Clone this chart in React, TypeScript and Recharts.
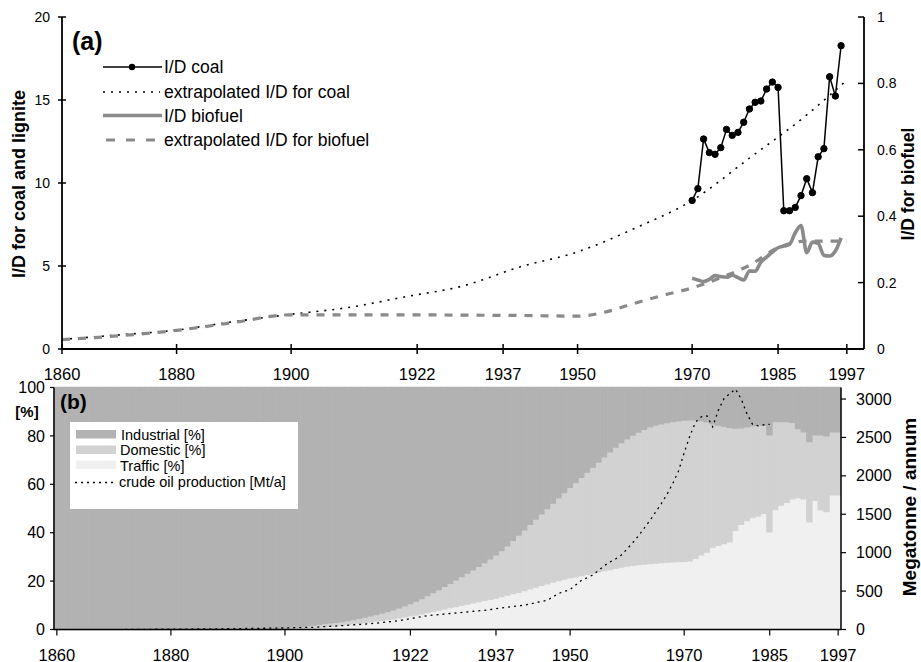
import React from "react";
import { ComposedChart, Line, Bar, XAxis, YAxis } from "recharts";

const FONT = '"Liberation Sans", Arial, Helvetica, sans-serif';
const INDUSTRIAL = "#b2b2b2";
const DOMESTIC = "#d2d2d2";
const TRAFFIC = "#f0f0f0";
const BIO_GREY = "#8a8a8a";

const YEAR_TICKS = [1860, 1880, 1900, 1922, 1937, 1950, 1970, 1985, 1997];

// ---- panel (a): I/D ratios ----
const COAL_YEARS = [
  1970, 1971, 1972, 1973, 1974, 1975, 1976, 1977, 1978, 1979, 1980, 1981, 1982, 1983,
  1984, 1985, 1986, 1987, 1988, 1989, 1990, 1991, 1992, 1993, 1994, 1995, 1996,
];
const COAL_ID = [
  8.95, 9.66, 12.65, 11.83, 11.73, 12.13, 13.23, 12.87, 13.05, 13.66, 14.46, 14.86, 14.94, 15.66,
  16.08, 15.76, 8.33, 8.33, 8.53, 9.24, 10.26, 9.42, 11.58, 12.07, 16.4, 15.24, 18.27,
];
const BIO_ID = [
  0.213, 0.208, 0.203, 0.21, 0.221, 0.218, 0.216, 0.222, 0.215, 0.208, 0.235, 0.234, 0.262, 0.277,
  0.292, 0.305, 0.31, 0.315, 0.35, 0.372, 0.29, 0.322, 0.318, 0.282, 0.28, 0.295, 0.335,
];
const COAL_EXT_YEARS = [1860, 1870, 1880, 1890, 1900, 1910, 1920, 1930, 1940, 1950, 1960, 1970, 1980, 1990, 1997];
const COAL_EXT = [0.58, 0.85, 1.14, 1.65, 2.09, 2.5, 3.15, 3.8, 4.95, 5.85, 7.27, 8.95, 11.5, 14.1, 16.2];
const BIO_EXT_YEARS = [1860, 1870, 1880, 1890, 1900, 1910, 1920, 1930, 1940, 1950, 1955, 1960, 1965, 1970, 1975, 1980, 1985, 1990, 1997];
const BIO_EXT = [0.028, 0.04, 0.056, 0.08, 0.103, 0.103, 0.103, 0.102, 0.101, 0.099, 0.112, 0.138, 0.162, 0.184, 0.215, 0.252, 0.305, 0.325, 0.325];

// ---- panel (b): sector shares (%) from 1899, oil production (Mt/a) ----
const FIRST_YEAR = 1860;
const LAST_YEAR = 1997;
const SHARE_FROM = 1899;
const TRAFFIC_PCT = [
  0, 0.2, 0.3, 0.4, 0.5, 0.6, 0.7, 0.9, 1.1, 1.3,
  1.5, 1.7, 2.0, 2.3, 2.6, 2.9, 3.2, 3.5, 3.8, 4.1,
  4.4, 4.8, 5.2, 5.6, 6.0, 6.5, 7.0, 7.5, 8.0, 8.5,
  9.0, 9.5, 10.0, 10.5, 11.0, 11.5, 12.0, 12.5, 13.0, 13.6,
  14.2, 14.8, 15.4, 16.1, 16.8, 17.5, 18.2, 18.9, 19.6, 20.2,
  20.8, 21.3, 21.8, 22.3, 22.8, 23.3, 23.8, 24.3, 24.8, 25.3,
  25.8, 26.2, 26.5, 26.8, 27.0, 27.2, 27.4, 27.6, 27.8, 28.0,
  28.1, 28.2, 28.4, 29.4, 30.8, 32.0, 34.0, 34.8, 35.5, 36.2,
  41.0, 43.5, 45.0, 46.2, 47.0, 48.0, 40.4, 49.5, 51.4, 52.5,
  54.0, 54.5, 54.0, 44.5, 53.4, 49.4, 48.7, 55.6, 55.6,
];
// upper edge of the domestic band (traffic + domestic)
const DOMESTIC_TOP = [
  0, 0.6, 0.8, 1.0, 1.2, 1.5, 1.8, 2.1, 2.4, 2.7,
  3.0, 3.3, 3.7, 4.1, 4.6, 5.1, 5.6, 6.2, 6.8, 7.4,
  8.1, 8.9, 9.8, 10.7, 11.7, 12.8, 14.0, 15.2, 16.5, 17.8,
  19.1, 20.5, 21.9, 23.3, 24.7, 26.1, 27.6, 29.2, 30.8, 32.6,
  34.6, 36.8, 39.0, 41.2, 43.4, 45.6, 47.8, 50.0, 52.2, 54.4,
  56.6, 58.7, 60.8, 62.9, 65.0, 67.1, 69.2, 71.3, 73.4, 75.4,
  77.2, 78.8, 80.3, 81.6, 82.7, 83.7, 84.5, 85.0, 85.5, 85.9,
  86.2, 86.5, 86.6, 86.7, 86.3, 85.8, 85.0, 84.5, 84.0, 83.5,
  83.2, 83.3, 83.7, 84.2, 84.5, 84.5, 80.4, 85.9, 85.9, 85.9,
  85.6, 83.0, 81.7, 77.6, 80.4, 80.4, 80.0, 81.7, 81.7,
];
const OIL_YEARS = [
  1872, 1880, 1890, 1900, 1905, 1910, 1915, 1920, 1925, 1930, 1935, 1937, 1940, 1942, 1944, 1946, 1948,
  1950, 1952, 1954, 1955, 1956, 1957, 1958, 1959, 1960, 1961, 1962, 1963, 1964, 1965, 1966, 1967, 1968,
  1969, 1970, 1971, 1972, 1973, 1974, 1975, 1976, 1977, 1978, 1979, 1980, 1981, 1982, 1983, 1984, 1985,
];
const OIL_MT = [
  1, 4, 10, 20, 29, 50, 75, 115, 180, 215, 250, 270, 300, 316, 350, 380, 470,
  520, 640, 710, 770, 830, 880, 920, 970, 1050, 1130, 1220, 1320, 1420, 1530, 1640, 1760, 1900,
  2060, 2300, 2520, 2700, 2768, 2781, 2638, 2855, 3008, 3070, 3129, 3000, 2810, 2670, 2650, 2665, 2670,
];

const zip = (xs: number[], ys: number[]) => xs.map((x, i) => ({ x, y: ys[i] }));
const coalData = zip(COAL_YEARS, COAL_ID);
const bioData = zip(COAL_YEARS, BIO_ID);
const coalExtData = zip(COAL_EXT_YEARS, COAL_EXT);
const bioExtData = zip(BIO_EXT_YEARS, BIO_EXT);

const shareRows = Array.from({ length: LAST_YEAR - FIRST_YEAR + 1 }, (_, i) => {
  const year = FIRST_YEAR + i;
  const k = year - SHARE_FROM;
  const traffic = k >= 0 ? TRAFFIC_PCT[k] : 0;
  const top = k >= 0 ? DOMESTIC_TOP[k] : 0;
  const oi = OIL_YEARS.indexOf(year);
  return {
    year,
    traffic,
    domestic: top - traffic,
    industrial: 100 - top,
    oil: oi >= 0 ? OIL_MT[oi] : null,
  };
});

// layout of panel (b)
const B_W = 921;
const B_LEFT = 10 + 44;
const B_RIGHT = 10 + 70;
const BAND = (B_W - B_LEFT - B_RIGHT) / shareRows.length;

const txt = { fontFamily: FONT, fill: "#000" } as const;

// ---- tick renderers ----
const TopBottomTick = (p: any) => (
  <g>
    <line x1={p.x} x2={p.x} y1={p.y - 5} y2={p.y + 5} stroke="#000" strokeWidth={1.5} />
    <text x={p.x} y={p.y + 31} textAnchor="middle" fontSize={16.5} {...txt}>
      {p.payload.value}
    </text>
  </g>
);
const TopTopTick = (p: any) => (
  <line x1={p.x} x2={p.x} y1={p.y - 4} y2={p.y + 5} stroke="#000" strokeWidth={1.5} />
);
const TopLeftTick = (p: any) => (
  <g>
    <line x1={p.x - 4} x2={p.x + 4} y1={p.y} y2={p.y} stroke="#000" strokeWidth={1.5} />
    <text x={p.x - 12} y={p.y} dy="0.35em" textAnchor="end" fontSize={14} {...txt}>
      {p.payload.value}
    </text>
  </g>
);
const TopRightTick = (p: any) => (
  <g>
    <line x1={p.x - 6} x2={p.x} y1={p.y} y2={p.y} stroke="#000" strokeWidth={1.5} />
    <text x={p.x + 13} y={p.y} dy="0.35em" textAnchor="start" fontSize={14} {...txt}>
      {String(p.payload.value)}
    </text>
  </g>
);
const BotBottomTick = (p: any) =>
  YEAR_TICKS.includes(p.payload.value) ? (
    <g>
      <line x1={p.x} x2={p.x} y1={p.y} y2={p.y + 6} stroke="#000" strokeWidth={1.2} />
      <text x={p.x} y={p.y + 31} textAnchor="middle" fontSize={16.5} {...txt}>
        {p.payload.value}
      </text>
    </g>
  ) : (
    <g />
  );
const BotTopTick = (p: any) =>
  YEAR_TICKS.includes(p.payload.value) ? (
    <line x1={p.x} x2={p.x} y1={p.y} y2={p.y + 3} stroke="#000" strokeWidth={1.2} />
  ) : (
    <g />
  );
const BotLeftTick = (p: any) => (
  <g>
    <line x1={p.x - 4} x2={p.x} y1={p.y} y2={p.y} stroke="#000" strokeWidth={1.2} />
    <text x={p.x - 9} y={p.y} dy="0.35em" textAnchor="end" fontSize={16} {...txt}>
      {p.payload.value}
    </text>
  </g>
);
const BotRightTick = (p: any) => (
  <g>
    <line x1={p.x} x2={p.x + 5} y1={p.y} y2={p.y} stroke="#000" strokeWidth={1.2} />
    <text x={p.x + 15} y={p.y} dy="0.35em" textAnchor="start" fontSize={16} {...txt}>
      {p.payload.value}
    </text>
  </g>
);

function PanelA() {
  return (
    <ComposedChart width={921} height={385} margin={{ top: 17, right: 12, bottom: 0, left: 12 }}>
      <XAxis
        xAxisId="b"
        type="number"
        dataKey="x"
        domain={[1860, 2000]}
        ticks={YEAR_TICKS}
        interval={0}
        allowDataOverflow
        height={36}
        tickSize={0}
        tickMargin={0}
        tickLine={false}
        tick={TopBottomTick}
        axisLine={{ stroke: "#000", strokeWidth: 1.8 }}
      />
      <XAxis
        xAxisId="t"
        orientation="top"
        type="number"
        dataKey="x"
        domain={[1860, 2000]}
        ticks={YEAR_TICKS}
        interval={0}
        allowDataOverflow
        height={0}
        tickSize={0}
        tickMargin={0}
        tickLine={false}
        tick={TopTopTick}
        axisLine={{ stroke: "#000", strokeWidth: 1.8 }}
      />
      <YAxis
        yAxisId="left"
        domain={[0, 20]}
        ticks={[0, 5, 10, 15, 20]}
        interval={0}
        width={50}
        tickSize={0}
        tickMargin={0}
        tickLine={false}
        tick={TopLeftTick}
        axisLine={{ stroke: "#000", strokeWidth: 1.8 }}
      />
      <YAxis
        yAxisId="right"
        orientation="right"
        domain={[0, 1]}
        ticks={[0, 0.2, 0.4, 0.6, 0.8, 1]}
        interval={0}
        width={45}
        tickSize={0}
        tickMargin={0}
        tickLine={false}
        tick={TopRightTick}
        axisLine={{ stroke: "#000", strokeWidth: 1.8 }}
      />
      <Line
        xAxisId="b"
        yAxisId="left"
        data={coalExtData}
        dataKey="y"
        type="monotone"
        stroke="#000"
        strokeWidth={1.6}
        strokeDasharray="2 6"
        dot={false}
        isAnimationActive={false}
      />
      <Line
        xAxisId="b"
        yAxisId="right"
        data={bioExtData}
        dataKey="y"
        type="monotone"
        stroke={BIO_GREY}
        strokeWidth={3.2}
        strokeDasharray="8 8"
        dot={false}
        isAnimationActive={false}
      />
      <Line
        xAxisId="b"
        yAxisId="right"
        data={bioData}
        dataKey="y"
        type="monotone"
        stroke={BIO_GREY}
        strokeWidth={3.6}
        dot={false}
        isAnimationActive={false}
      />
      <Line
        xAxisId="b"
        yAxisId="left"
        data={coalData}
        dataKey="y"
        type="linear"
        stroke="#000"
        strokeWidth={1.5}
        dot={{ r: 3.2, fill: "#000", stroke: "#000", strokeWidth: 1 }}
        isAnimationActive={false}
      />
    </ComposedChart>
  );
}

function PanelB() {
  return (
    <ComposedChart
      width={B_W}
      height={292}
      data={shareRows}
      margin={{ top: 17.5, right: 10, bottom: 0, left: 10 }}
      barCategoryGap={0}
      barGap={0}
    >
      <XAxis
        xAxisId="b"
        dataKey="year"
        type="category"
        interval={0}
        height={32.5}
        tickSize={0}
        tickMargin={0}
        tickLine={false}
        tick={BotBottomTick}
        axisLine={{ stroke: "#000", strokeWidth: 1.5 }}
      />
      <XAxis
        xAxisId="t"
        orientation="top"
        dataKey="year"
        type="category"
        interval={0}
        height={0}
        tickSize={0}
        tickMargin={0}
        tickLine={false}
        tick={BotTopTick}
        axisLine={{ stroke: "#000", strokeWidth: 1.5 }}
      />
      <YAxis
        yAxisId="left"
        domain={[0, 100]}
        ticks={[0, 20, 40, 60, 80, 100]}
        interval={0}
        width={44}
        tickSize={0}
        tickMargin={0}
        tickLine={false}
        tick={BotLeftTick}
        axisLine={{ stroke: "#000", strokeWidth: 1.5 }}
      />
      <YAxis
        yAxisId="right"
        orientation="right"
        domain={[0, 3150]}
        ticks={[0, 500, 1000, 1500, 2000, 2500, 3000]}
        interval={0}
        width={70}
        tickSize={0}
        tickMargin={0}
        tickLine={false}
        tick={BotRightTick}
        axisLine={{ stroke: "#000", strokeWidth: 1.5 }}
      />
      <Bar xAxisId="b" yAxisId="left" dataKey="traffic" stackId="s" fill={TRAFFIC} stroke={TRAFFIC} strokeWidth={1.3} barSize={BAND} isAnimationActive={false} />
      <Bar xAxisId="b" yAxisId="left" dataKey="domestic" stackId="s" fill={DOMESTIC} stroke={DOMESTIC} strokeWidth={1.3} barSize={BAND} isAnimationActive={false} />
      <Bar xAxisId="b" yAxisId="left" dataKey="industrial" stackId="s" fill={INDUSTRIAL} stroke={INDUSTRIAL} strokeWidth={1.3} barSize={BAND} isAnimationActive={false} />
      <Line
        xAxisId="b"
        yAxisId="right"
        dataKey="oil"
        type="linear"
        connectNulls
        stroke="#000"
        strokeWidth={1.3}
        strokeDasharray="2 4"
        dot={false}
        isAnimationActive={false}
      />
    </ComposedChart>
  );
}

function Overlay() {
  return (
    <svg width={921} height={662} style={{ position: "absolute", left: 0, top: 0, pointerEvents: "none" }}>
      {/* panel (a) labels */}
      <text x={72} y={50} fontSize={25} fontWeight="bold" {...txt}>(a)</text>
      <line x1={103} x2={162} y1={67} y2={67} stroke="#000" strokeWidth={1.5} />
      <circle cx={132} cy={67} r={3.2} fill="#000" />
      <text x={164} y={73} fontSize={17.5} {...txt}>I/D coal</text>
      <line x1={103} x2={160} y1={92} y2={92} stroke="#000" strokeWidth={1.6} strokeDasharray="2 6" />
      <text x={164} y={97.5} fontSize={17.5} {...txt}>extrapolated I/D for coal</text>
      <line x1={103} x2={162} y1={115.5} y2={115.5} stroke={BIO_GREY} strokeWidth={3.6} />
      <text x={164} y={121.7} fontSize={17.5} {...txt}>I/D biofuel</text>
      <line x1={106} x2={158} y1={140} y2={140} stroke={BIO_GREY} strokeWidth={3.2} strokeDasharray="9 11" />
      <text x={164} y={146} fontSize={17.5} {...txt}>extrapolated I/D for biofuel</text>
      <text transform="translate(25,184) rotate(-90)" textAnchor="middle" fontSize={18} fontWeight="bold" {...txt}>
        I/D for coal and lignite
      </text>
      <text transform="translate(914,184) rotate(-90)" textAnchor="middle" fontSize={17.5} fontWeight="bold" {...txt}>
        I/D for biofuel
      </text>

      {/* panel (b) labels */}
      <text x={60} y={409} fontSize={21} fontWeight="bold" {...txt}>(b)</text>
      <text x={27} y={417} textAnchor="middle" fontSize={15} fontWeight="bold" {...txt}>[%]</text>
      <rect x={70} y={422} width={228} height={87} fill="#fff" />
      <rect x={76} y={430} width={40} height={8.5} fill={INDUSTRIAL} />
      <text x={121} y={439.5} fontSize={14.5} {...txt}>Industrial [%]</text>
      <rect x={76} y={445.5} width={40} height={8.5} fill={DOMESTIC} />
      <text x={120} y={455} fontSize={14.5} {...txt}>Domestic [%]</text>
      <rect x={76} y={460.5} width={40} height={8.5} fill={TRAFFIC} />
      <text x={120} y={470.5} fontSize={14.5} {...txt}>Traffic [%]</text>
      <line x1={75} x2={115} y1={482.5} y2={482.5} stroke="#000" strokeWidth={1.3} strokeDasharray="2 4" />
      <text x={119} y={487} fontSize={14.5} {...txt}>crude oil production [Mt/a]</text>
      <text transform="translate(916,507) rotate(-90)" textAnchor="middle" fontSize={19} fontWeight="bold" {...txt}>
        Megatonne / annum
      </text>
    </svg>
  );
}

export default function App() {
  return (
    <div style={{ position: "absolute", left: 0, top: 0, width: 921, height: 662, background: "#fff", overflow: "hidden" }}>
      <div style={{ position: "absolute", left: 0, top: 0 }}>
        <PanelA />
      </div>
      <div style={{ position: "absolute", left: 0, top: 370 }}>
        <PanelB />
      </div>
      <Overlay />
    </div>
  );
}
